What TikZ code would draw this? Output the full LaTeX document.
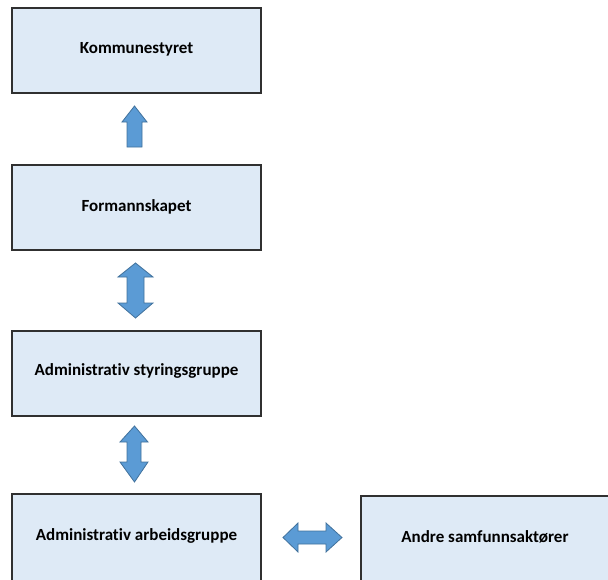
\documentclass[tikz,border=0pt]{standalone}
\usepackage{fontspec}
\setmainfont{Carlito}[Ligatures={NoCommon}]
\definecolor{boxfill}{HTML}{DEEAF6}
\definecolor{boxline}{HTML}{303030}
\definecolor{arrfill}{HTML}{5B9BD5}
\definecolor{arrline}{HTML}{41719C}
\begin{document}
\begin{tikzpicture}[x=1pt,y=-1pt,
  orgbox/.style={draw=boxline, line width=1.2pt, fill=boxfill},
  lbl/.style={font=\fontsize{17}{20}\selectfont\bfseries, text=black},
  fatarrow/.style={draw=arrline, line width=0.8pt, fill=arrfill, line join=miter}]
\useasboundingbox (0,0) rectangle (608,579);
\clip (0,0) rectangle (608,579);
% boxes
\draw[orgbox] (12,8) rectangle (261,93);
\draw[orgbox] (12,165) rectangle (261,250);
\draw[orgbox] (12,331) rectangle (261,416);
\draw[orgbox] (12,494) rectangle (261,600);
\draw[orgbox] (361,496) rectangle (620,600);
% labels
\node[lbl] (k) at (136.5,49) {Kommunestyret};
\node[lbl] (f) at (136.5,207) {Formannskapet};
\node[lbl] (s) at (136.5,371) {Administrativ styringsgruppe};
\node[lbl] (a) at (136.5,536) {Administrativ arbeidsgruppe};
\node[lbl] (o) at (485,537) {Andre samfunnsakt\o rer};
% arrows
\draw[fatarrow] (134.5,106) -- (147,122) -- (142,122) -- (142,147) -- (127,147) -- (127,122) -- (122,122) -- cycle;
\draw[fatarrow] (135.5,263) -- (153,277) -- (144,277) -- (144,303) -- (153,303) -- (135.5,318) -- (118,303) -- (127,303) -- (127,277) -- (118,277) -- cycle;
\draw[fatarrow] (134.5,426) -- (148,442) -- (141,442) -- (141,462) -- (148,462) -- (134.5,482) -- (120,462) -- (127,462) -- (127,442) -- (120,442) -- cycle;
\draw[fatarrow] (283,537.5) -- (298,523) -- (298,531) -- (326,531) -- (326,523) -- (342,537.5) -- (326,552) -- (326,544) -- (298,544) -- (298,552) -- cycle;
\end{tikzpicture}
\end{document}
